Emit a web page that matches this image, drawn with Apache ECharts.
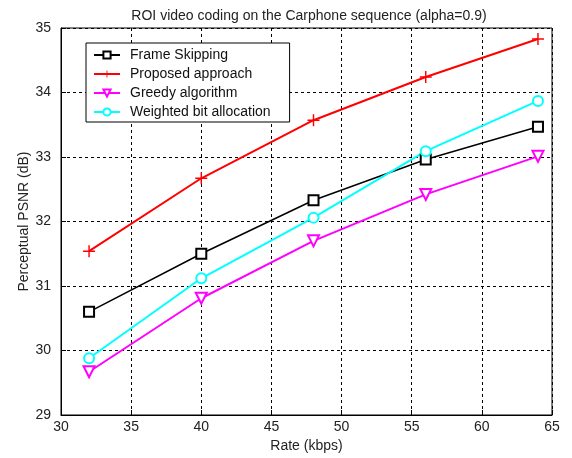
<!DOCTYPE html>
<html>
<head>
<meta charset="utf-8">
<script src="https://cdn.jsdelivr.net/npm/echarts@6/dist/echarts.min.js"></script>
<style>html,body{margin:0;padding:0;background:#fff;}#c{width:572px;height:458px;}</style>
</head>
<body>
<div id="c"></div>
<script>
const rates = [32, 40, 48, 56, 64];
const frameSkipping = [30.60, 31.50, 32.33, 32.96, 33.47];
const proposed = [31.54, 32.67, 33.57, 34.24, 34.83];
const greedy = [29.67, 30.81, 31.70, 32.42, 33.01];
const weighted = [29.88, 31.12, 32.06, 33.09, 33.87];
const xTicks = [30, 35, 40, 45, 50, 55, 60, 65];
const yTicks = [29, 30, 31, 32, 33, 34, 35];

const pair = (ys) => rates.map((x, i) => [x, ys[i]]);
const plusPath = 'path://M-0.12,-1H0.12V-0.12H1V0.12H0.12V1H-0.12V0.12H-1V-0.12H-0.12Z';
const font = 'Liberation Sans, Arial, sans-serif';
const FS = 14;

const chart = echarts.init(document.getElementById('c'), null, {renderer: 'canvas'});
const mkSeries = (name, data, color, symbol, size, width, rotate) => ({
  name, type: 'line', data: pair(data), symbol, symbolSize: size, symbolRotate: rotate || 0,
  showAllSymbol: true, animation: false,
  lineStyle: {color, width},
  itemStyle: {color, borderColor: color, borderWidth: symbol === plusPath ? 0 : 1.5},
  emphasis: {disabled: true}
});

chart.setOption({
  backgroundColor: '#fff',
  animation: false,
  title: {
    text: 'ROI video coding on the Carphone sequence (alpha=0.9)',
    left: 304, top: 4, textAlign: 'center',
    textStyle: {fontFamily: font, fontSize: FS, fontWeight: 'normal', color: '#222'}
  },
  grid: {left: 61, right: 20, top: 28, bottom: 43, show: true, borderColor: '#000', borderWidth: 1, backgroundColor: '#fff'},
  legend: {
    orient: 'vertical', left: 86, top: 43,
    padding: [5, 19, 3, 7], itemGap: 5, itemWidth: 26, itemHeight: 9,
    backgroundColor: '#fff', borderColor: '#000', borderWidth: 1, borderRadius: 0,
    textStyle: {fontFamily: font, fontSize: FS, color: '#111', padding: [0, 0, 0, 5]},
    data: ['Frame Skipping', 'Proposed approach', 'Greedy algorithm', 'Weighted bit allocation']
  },
  xAxis: {
    type: 'value', min: xTicks[0], max: xTicks[xTicks.length - 1], interval: 5,
    name: 'Rate (kbps)', nameLocation: 'middle', nameGap: 22,
    nameTextStyle: {fontFamily: font, fontSize: FS, color: '#222'},
    axisLine: {show: true, lineStyle: {color: '#000', width: 1}},
    axisTick: {show: true, inside: true, length: 5, lineStyle: {color: '#000'}},
    axisLabel: {fontFamily: font, fontSize: FS, color: '#222', margin: 5},
    splitLine: {show: true, lineStyle: {color: '#000', type: [3, 3], width: 1}}
  },
  yAxis: {
    type: 'value', min: yTicks[0], max: yTicks[yTicks.length - 1], interval: 1,
    name: 'Perceptual PSNR (dB)', nameLocation: 'middle', nameGap: 30, nameMoveOverlap: false,
    nameTextStyle: {fontFamily: font, fontSize: FS, color: '#222'},
    axisLine: {show: true, lineStyle: {color: '#000', width: 1}},
    axisTick: {show: true, inside: true, length: 5, lineStyle: {color: '#000'}},
    axisLabel: {fontFamily: font, fontSize: FS, color: '#222', margin: 10},
    splitLine: {show: true, lineStyle: {color: '#000', type: [3, 3], width: 1}}
  },
  series: [
    mkSeries('Frame Skipping', frameSkipping, '#000000', 'emptyRect', 10, 1.5),
    mkSeries('Proposed approach', proposed, '#ff0000', plusPath, 12, 2),
    mkSeries('Greedy algorithm', greedy, '#ff00ff', 'emptyTriangle', 11, 2, 180),
    mkSeries('Weighted bit allocation', weighted, '#00ffff', 'emptyCircle', 10, 2)
  ]
});
</script>
</body>
</html>
